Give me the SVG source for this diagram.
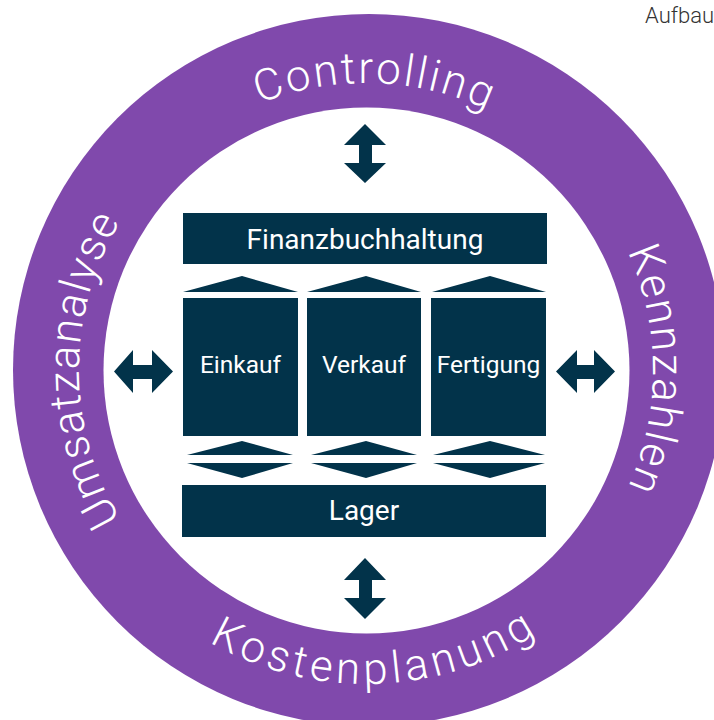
<svg xmlns="http://www.w3.org/2000/svg" width="714" height="720" viewBox="0 0 714 720">
<style>
.box{fill:#02334a}
.lbl{fill:#ffffff;font-family:Roboto,"Liberation Sans",sans-serif;text-anchor:middle}
.ring{fill:#ffffff;font-family:Roboto,"Liberation Sans",sans-serif;font-size:44px;font-weight:300;letter-spacing:2.5px}
.arr{fill:#02334a}
</style>
<defs>
<path id="pTop" d="M 79 370 A 287 287 0 0 1 653 370"/>
<path id="pRight" d="M 366 83 A 287 287 0 0 1 366 657"/>
<path id="pLeft" d="M 366 657 A 287 287 0 0 1 366 83"/>
<path id="pBottom" d="M 52 370 A 314 314 0 0 0 680 370"/>
</defs>
<rect width="714" height="720" fill="#ffffff"/>
<g id="ring">
<circle cx="369" cy="370" r="356" fill="#8049ac"/>
<circle cx="366.5" cy="370.5" r="263" fill="#ffffff"/>
</g>
<g id="controlling"><text class="ring"><textPath href="#pTop" startOffset="51%" text-anchor="middle">Controlling</textPath></text></g>
<g id="kennzahlen"><text class="ring" style="letter-spacing:2px"><textPath href="#pRight" startOffset="50%" text-anchor="middle">Kennzahlen</textPath></text></g>
<g id="umsatzanalyse"><text class="ring" style="letter-spacing:1.3px"><textPath href="#pLeft" startOffset="50%" text-anchor="middle">Umsatzanalyse</textPath></text></g>
<g id="kostenplanung"><text class="ring" style="letter-spacing:4.5px"><textPath href="#pBottom" startOffset="51%" text-anchor="middle">Kostenplanung</textPath></text></g>
<g id="finanzbuchhaltung"><rect class="box" x="183" y="213" width="364" height="51"/><text class="lbl" x="365" y="249" font-size="28">Finanzbuchhaltung</text></g>
<g id="einkauf"><rect class="box" x="183" y="298" width="115" height="138"/><text class="lbl" x="240.5" y="373" font-size="24.5">Einkauf</text></g>
<g id="verkauf"><rect class="box" x="307" y="298" width="114" height="138"/><text class="lbl" x="364" y="373" font-size="24.5">Verkauf</text></g>
<g id="fertigung"><rect class="box" x="431" y="298" width="115" height="138"/><text class="lbl" x="488.5" y="373" font-size="24.5">Fertigung</text></g>
<g id="lager"><rect class="box" x="182" y="485" width="364" height="52"/><text class="lbl" x="364" y="520" font-size="28">Lager</text></g>
<g id="connectors">
<polygon class="arr" points="183,292 242,276 298,292"/>
<polygon class="arr" points="307,292 366,276 421,292"/>
<polygon class="arr" points="432,292 490,276 546,292"/>
<polygon class="arr" points="187,455 242,441 293,455"/>
<polygon class="arr" points="187,463 242,478 293,463"/>
<polygon class="arr" points="311,455 366,441 417,455"/>
<polygon class="arr" points="311,463 366,478 417,463"/>
<polygon class="arr" points="433,455 490,441 545,455"/>
<polygon class="arr" points="433,463 490,478 545,463"/>
<polygon class="arr" points="365,124 386,145 372,145 372,163 386,163 365,183 344,163 359,163 359,145 344,145"/>
<polygon class="arr" points="365,558 386,580 372,580 372,598 386,598 365,619 344,598 359,598 359,580 344,580"/>
<polygon class="arr" points="114,371.5 133,350 133,365 152,365 152,350 173,371.5 152,393 152,379 133,379 133,393"/>
<polygon class="arr" points="556,371.5 577,350 577,365 594,365 594,350 615,371.5 594,393 594,379 577,379 577,393"/>
</g>
<text x="645" y="23" font-family="Roboto,'Liberation Sans',sans-serif" font-size="22" font-weight="300" fill="#333333">Aufbau</text>
</svg>
